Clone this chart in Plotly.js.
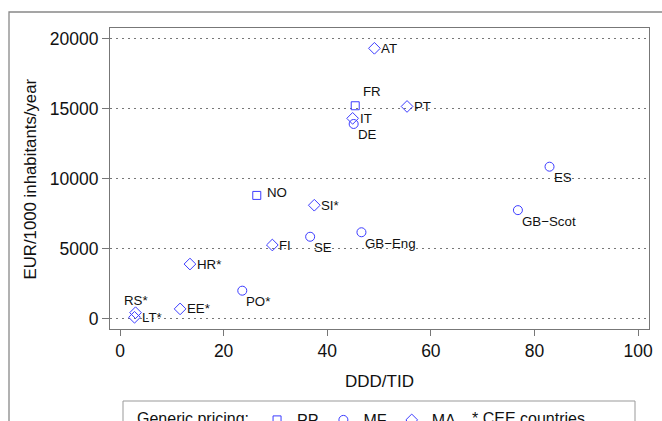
<!DOCTYPE html>
<html>
<head>
<meta charset="utf-8">
<script src="https://cdn.plot.ly/plotly-3.0.1.min.js"></script>
<style>html,body{margin:0;padding:0;background:#fff;}#chart{width:662px;height:421px;}</style>
</head>
<body>
<div id="chart"></div>
<script>
// ---- data ----
const countries = ['AT','FR','PT','IT','DE','ES','GB\u2212Scot','GB\u2212Eng','NO','SI*','FI','SE','HR*','PO*','EE*','RS*','LT*'];
const dddTid    = [49.1, 45.4, 55.4, 44.9, 45.1, 82.9, 76.8, 46.6, 26.4, 37.5, 29.4, 36.7, 13.5, 23.6, 11.6, 3.0, 2.8];
const eurPer1000 = [19300, 15200, 15150, 14300, 13900, 10850, 7750, 6170, 8800, 8100, 5260, 5850, 3900, 2000, 700, 430, 100];
const pricing   = ['MA','PP','MA','MA','MF','MF','MF','MF','PP','MA','MA','MF','MA','MF','MA','MA','MA'];
const pricingGroups = ['PP','MF','MA'];
const xTicks = [0, 20, 40, 60, 80, 100];
const yTicks = [0, 5000, 10000, 15000, 20000];

// ---- styling (not data) ----
const blue = 'rgb(60,60,255)';
const symbols = {PP:'square-open', MF:'circle-open', MA:'diamond-open'};
const sizes = {PP:8, MF:9, MA:9};
const labelPlace = {
  'AT':'r','FR':'ur','PT':'r','IT':'r','DE':'br','ES':'br','GB\u2212Scot':'br','GB\u2212Eng':'br',
  'NO':'nr','SI*':'r','FI':'r','SE':'br','HR*':'r','PO*':'br','EE*':'r','RS*':'a','LT*':'r'
};
const placeStyle = {
  r:  {xanchor:'left', xshift:5, yshift:0},
  br: {xanchor:'left', xshift:2, yshift:-11},
  ur: {xanchor:'left', xshift:6, yshift:14},
  nr: {xanchor:'left', xshift:8, yshift:3},
  a:  {xanchor:'center', xshift:0, yshift:12}
};

const traces = pricingGroups.map(g => {
  const idx = pricing.map((p,i)=>p===g?i:-1).filter(i=>i>=0);
  return {
    type:'scatter', mode:'markers', name:g,
    x: idx.map(i=>dddTid[i]), y: idx.map(i=>eurPer1000[i]),
    marker:{symbol:symbols[g], size:sizes[g], color:blue, line:{color:blue, width:1}},
    hoverinfo:'x+y'
  };
});

const annotations = countries.map((c,i) => {
  const s = placeStyle[labelPlace[c]];
  return {
    x: dddTid[i], y: eurPer1000[i], xref:'x', yref:'y', text:c, showarrow:false,
    xanchor:s.xanchor, yanchor:'middle', xshift:s.xshift, yshift:s.yshift,
    font:{size:13.3, color:'#111'}
  };
});
annotations.push({
  text:'EUR/1000 inhabitants/year', xref:'paper', yref:'paper', x:-0.1466, y:0.5,
  textangle:-90, showarrow:false, xanchor:'center', yanchor:'middle', font:{size:16.8, color:'#111'}
});
annotations.push({
  text:'DDD/TID', xref:'paper', yref:'paper', x:0.5, y:-0.1728,
  showarrow:false, xanchor:'center', yanchor:'middle', font:{size:17, color:'#111'}
});
annotations.push({
  text:'* CEE countries', xref:'paper', yref:'paper', x:(470-110)/539, y:(329-418)/301,
  showarrow:false, xanchor:'left', yanchor:'middle', font:{size:16, color:'#111'}
});

const layout = {
  width:662, height:421,
  margin:{l:110, r:13, t:28, b:92, autoexpand:false},
  paper_bgcolor:'#fff', plot_bgcolor:'#fff',
  font:{family:'Liberation Sans, Arial, sans-serif', color:'#111'},
  showlegend:true,
  legend:{
    orientation:'h', x:(135-110)/539, xanchor:'left', y:(329-403)/301, yanchor:'top',
    title:{text:'Generic pricing:', side:'left', font:{size:16}},
    font:{size:16, color:'#111'}, borderwidth:0, bgcolor:'rgba(0,0,0,0)',
    traceorder:'normal'
  },
  xaxis:{
    range:[-1.93, 102.1], tickvals:xTicks, ticktext:xTicks.map(String),
    showgrid:false, zeroline:false, showline:true, mirror:true, linecolor:'#777', linewidth:1,
    ticks:'outside', ticklen:6, tickcolor:'#777', tickfont:{size:17.5, color:'#111'}
  },
  yaxis:{
    range:[-735, 20750], tickvals:yTicks, ticktext:yTicks.map(String),
    showgrid:true, gridcolor:'#777', griddash:'2px,4px', gridwidth:1,
    zeroline:false, showline:true, mirror:true, linecolor:'#777', linewidth:1,
    ticks:'outside', ticklen:7, tickcolor:'#777', tickfont:{size:17.5, color:'#111'}
  },
  shapes:[
    {type:'rect', xref:'paper', yref:'paper', x0:(9-110)/539, x1:(680-110)/539, y0:(329-440)/301, y1:(329-12)/301,
     line:{color:'#888', width:1.3}, fillcolor:'rgba(0,0,0,0)', layer:'below'},
    {type:'rect', xref:'paper', yref:'paper', x0:(123-110)/539, x1:(635-110)/539, y0:(329-440)/301, y1:(329-401)/301,
     line:{color:'#999', width:1}, fillcolor:'rgba(0,0,0,0)', layer:'below'}
  ],
  annotations:annotations
};

Plotly.newPlot('chart', traces, layout, {displayModeBar:false, staticPlot:true});
</script>
</body>
</html>
